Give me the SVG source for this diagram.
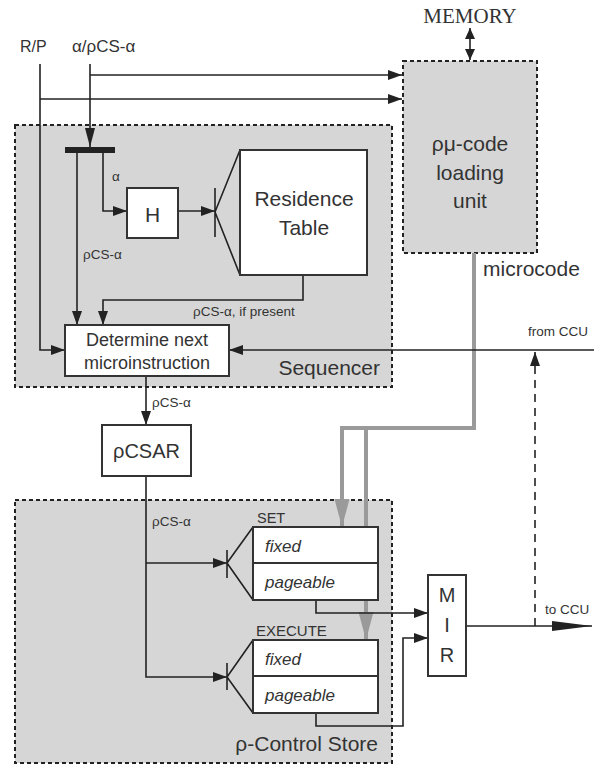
<svg xmlns="http://www.w3.org/2000/svg" width="594" height="765" viewBox="0 0 594 765">
<defs>
<style>
.cont{fill:#d6d6d6;stroke:#222;stroke-width:2;stroke-dasharray:4 3}
.box{fill:#fff;stroke:#333;stroke-width:2}
.ln{fill:none;stroke:#222;stroke-width:1.6}
.gl{fill:none;stroke:#9a9a9a;stroke-width:4}
.t{font-family:"Liberation Sans",Arial,sans-serif;fill:#333}
.it{font-family:"Liberation Sans",Arial,sans-serif;font-style:italic;fill:#333}
.s{font-size:13.5px}
</style>
<marker id="a" markerUnits="userSpaceOnUse" markerWidth="15" markerHeight="11" refX="14" refY="5" orient="auto"><path d="M0,0 L14,5 L0,10 z" fill="#222"/></marker>
<marker id="along" markerUnits="userSpaceOnUse" markerWidth="20" markerHeight="11" refX="19" refY="5" orient="auto"><path d="M0,0 L19,5 L0,10 z" fill="#222"/></marker>
<marker id="aout" markerUnits="userSpaceOnUse" markerWidth="42" markerHeight="11" refX="40" refY="5" orient="auto"><path d="M0,0 L40,5 L0,10 z" fill="#222"/></marker>
<marker id="ag" markerUnits="userSpaceOnUse" markerWidth="30" markerHeight="16" refX="28" refY="7.5" orient="auto"><path d="M0,0 L28,7.5 L0,15 z" fill="#9a9a9a"/></marker>
<marker id="ad" markerUnits="userSpaceOnUse" markerWidth="12" markerHeight="11" refX="11" refY="5" orient="auto-start-reverse"><path d="M0,0 L11,5 L0,10 z" fill="#222"/></marker>
</defs>
<rect width="594" height="765" fill="#fff"/>

<g id="sequencer">
<rect class="cont" x="15" y="125" width="377" height="262"/>
<text class="t" x="380" y="375" font-size="21" text-anchor="end">Sequencer</text>
</g>
<g id="loading-unit">
<rect class="cont" x="403" y="61" width="134" height="192"/>
<text class="t" font-size="21" text-anchor="middle"><tspan x="470" y="151">ρμ-code</tspan><tspan x="470" y="180">loading</tspan><tspan x="470" y="208">unit</tspan></text>
</g>
<g id="control-store">
<rect class="cont" x="15" y="500" width="377" height="263"/>
<text class="t" x="378" y="751" font-size="21" text-anchor="end">ρ-Control Store</text>
</g>

<g id="connectors">
<path class="gl" d="M474,253 V428 H342 V527" marker-end="url(#ag)"/>
<path class="gl" d="M366,428 V640" marker-end="url(#ag)"/>
<path class="ln" d="M90,64 V147" marker-end="url(#along)"/>
<path class="ln" d="M90,75 H402" marker-end="url(#a)"/>
<path class="ln" d="M40,64 V350 H65" marker-end="url(#a)"/>
<path class="ln" d="M40,99 H402" marker-end="url(#a)"/>
<path class="ln" d="M77,153 V325" marker-end="url(#a)"/>
<path class="ln" d="M103,153 V211 H127" marker-end="url(#a)"/>
<path class="ln" d="M178,211 H215" marker-end="url(#a)"/>
<path class="ln" d="M303,275 V300 H103 V325" marker-end="url(#a)"/>
<path class="ln" d="M594,350 H229" marker-end="url(#a)"/>
<path class="ln" d="M146,376 V425" marker-end="url(#a)"/>
<path class="ln" d="M146,476 V677 H227" marker-end="url(#a)"/>
<path class="ln" d="M146,563 H227" marker-end="url(#a)"/>
<path class="ln" d="M316,600 V613 H428" marker-end="url(#a)"/>
<path class="ln" d="M316,713 V726 H403 V638 H428" marker-end="url(#a)"/>
<path class="ln" d="M466,626 H592" marker-end="url(#aout)"/>
<path class="ln" d="M535,626 V352" stroke-dasharray="8 6" marker-end="url(#a)"/>
<path class="ln" d="M470,28 V60" stroke-width="2.5" marker-start="url(#ad)" marker-end="url(#ad)"/>
<text class="t s" x="112" y="181">α</text>
<text class="t s" x="83" y="259">ρCS-α</text>
<text class="t s" x="193" y="316">ρCS-α, if present</text>
<text class="t s" x="528" y="336">from CCU</text>
<text class="t s" x="152" y="407">ρCS-α</text>
<text class="t s" x="152" y="526">ρCS-α</text>
<text class="t s" x="545" y="614">to CCU</text>
</g>

<g id="input-labels">
<text class="t" x="20" y="52" font-size="16">R/P</text>
<text class="t" x="72" y="52" font-size="17">α/ρCS-α</text>
</g>
<g id="memory">
<text x="470" y="23" font-family="Liberation Serif,Times New Roman,serif" font-size="21" fill="#333" text-anchor="middle">MEMORY</text>
</g>
<g id="microcode-label">
<text class="t" x="483" y="276" font-size="21">microcode</text>
</g>

<g id="splitter">
<rect x="65" y="147" width="50" height="6" fill="#222"/>
</g>
<g id="h">
<rect class="box" x="127" y="188" width="51" height="50"/>
<text class="t" x="152.5" y="222" font-size="21" text-anchor="middle">H</text>
</g>
<g id="residence-table">
<path class="ln" d="M215,188 V237 M215,212 L240,150 M215,212 L240,275" stroke-width="2"/>
<rect class="box" x="240" y="150" width="127" height="125"/>
<text class="t" font-size="21" text-anchor="middle"><tspan x="304" y="206">Residence</tspan><tspan x="304" y="235">Table</tspan></text>
</g>
<g id="determine">
<rect class="box" x="65" y="325" width="164" height="51"/>
<text class="t" font-size="18" text-anchor="middle"><tspan x="147" y="346">Determine next</tspan><tspan x="147" y="369">microinstruction</tspan></text>
</g>
<g id="pcsar">
<rect class="box" x="102" y="425" width="89" height="51"/>
<text class="t" x="146.5" y="458" font-size="20" text-anchor="middle">ρCSAR</text>
</g>
<g id="set">
<path class="ln" d="M227,550 V578 M227,563 L253,527 M227,563 L253,600" stroke-width="2"/>
<rect class="box" x="253" y="527" width="125" height="73"/>
<line x1="253" y1="563" x2="378" y2="563" stroke="#333" stroke-width="2"/>
<text class="t" x="257" y="523" font-size="14.5">SET</text>
<text class="it" x="265" y="552" font-size="17">fixed</text>
<text class="it" x="265" y="588" font-size="17">pageable</text>
</g>
<g id="execute">
<path class="ln" d="M227,663 V690 M227,677 L253,640 M227,677 L253,713" stroke-width="2"/>
<rect class="box" x="253" y="640" width="125" height="73"/>
<line x1="253" y1="676" x2="378" y2="676" stroke="#333" stroke-width="2"/>
<text class="t" x="256" y="636" font-size="15">EXECUTE</text>
<text class="it" x="265" y="665" font-size="17">fixed</text>
<text class="it" x="265" y="701" font-size="17">pageable</text>
</g>
<g id="mir">
<rect class="box" x="428" y="575" width="38" height="101"/>
<text class="t" font-size="20" text-anchor="middle"><tspan x="447" y="602">M</tspan><tspan x="447" y="632">I</tspan><tspan x="447" y="662">R</tspan></text>
</g>
</svg>
